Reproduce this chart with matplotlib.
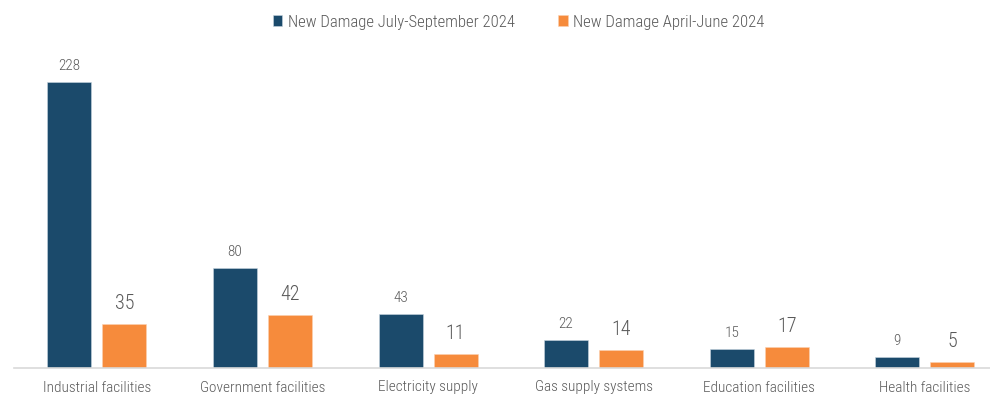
import matplotlib
matplotlib.use("Agg")
import matplotlib.pyplot as plt
import numpy as np

categories = ["Industrial facilities", "Government facilities", "Electricity supply",
              "Gas supply systems", "Education facilities", "Health facilities"]
jul_sep = [228, 80, 43, 22, 15, 9]
apr_jun = [35, 42, 11, 14, 17, 5]
series_names = ["New Damage July-September 2024", "New Damage April-June 2024"]

dark = "#1b4a6b"
orange = "#f68b3c"
txt = "#595959"

plt.rcParams['font.family'] = ['Roboto Condensed', 'Roboto', 'DejaVu Sans']
plt.rcParams['font.weight'] = 'light'

W, H = 990, 395
fig = plt.figure(figsize=(W/100, H/100), dpi=100)
left = 14 / W
bottom = (H - 368) / H
ax = fig.add_axes([left, bottom, (W - 14) / W, 313.6 / H])

x = np.arange(len(categories))
bw = 44 / 165.6
off = 27.5 / 165.6
b1 = ax.bar(x - off, jul_sep, bw, color=dark, label=series_names[0], edgecolor="#c9d6e0", linewidth=0.4)
b2 = ax.bar(x + off, apr_jun, bw, color=orange, label=series_names[1], edgecolor="#fbd1b2", linewidth=0.4)

for r, v in zip(b1, jul_sep):
    ax.annotate(str(v), (r.get_x() + r.get_width()/2, v), xytext=(0, 9), textcoords="offset pixels",
                ha="center", va="bottom", fontsize=11, color=txt, fontweight="light")
for r, v in zip(b2, apr_jun):
    ax.annotate(str(v), (r.get_x() + r.get_width()/2, v), xytext=(0, 11), textcoords="offset pixels",
                ha="center", va="bottom", fontsize=14.5, color=txt, fontweight="light")

ax.set_xlim(-0.5, -0.5 + (W - 14) / 165.6)
ax.set_ylim(0, 250)
ax.set_xticks(x)
ax.set_xticklabels(categories, fontsize=11, color=txt, fontweight="light")
ax.tick_params(axis="x", length=0, pad=9)
ax.set_yticks([])
for s in ["top", "right", "left"]:
    ax.spines[s].set_visible(False)
ax.spines["bottom"].set_color("#d9d9d9")
ax.spines["bottom"].set_linewidth(1.2)

leg = fig.legend(handles=[b1, b2], labels=series_names, loc="center", bbox_to_anchor=(519/W, 1 - 22/H),
                 ncol=2, frameon=False, fontsize=12, handlelength=0.55, handleheight=0.6,
                 handletextpad=0.35, columnspacing=2.6, labelcolor=txt,
                 prop={"family": ['Roboto Condensed', 'Roboto'], "weight": "light", "size": 12})

fig.savefig("out.png", dpi=100)
